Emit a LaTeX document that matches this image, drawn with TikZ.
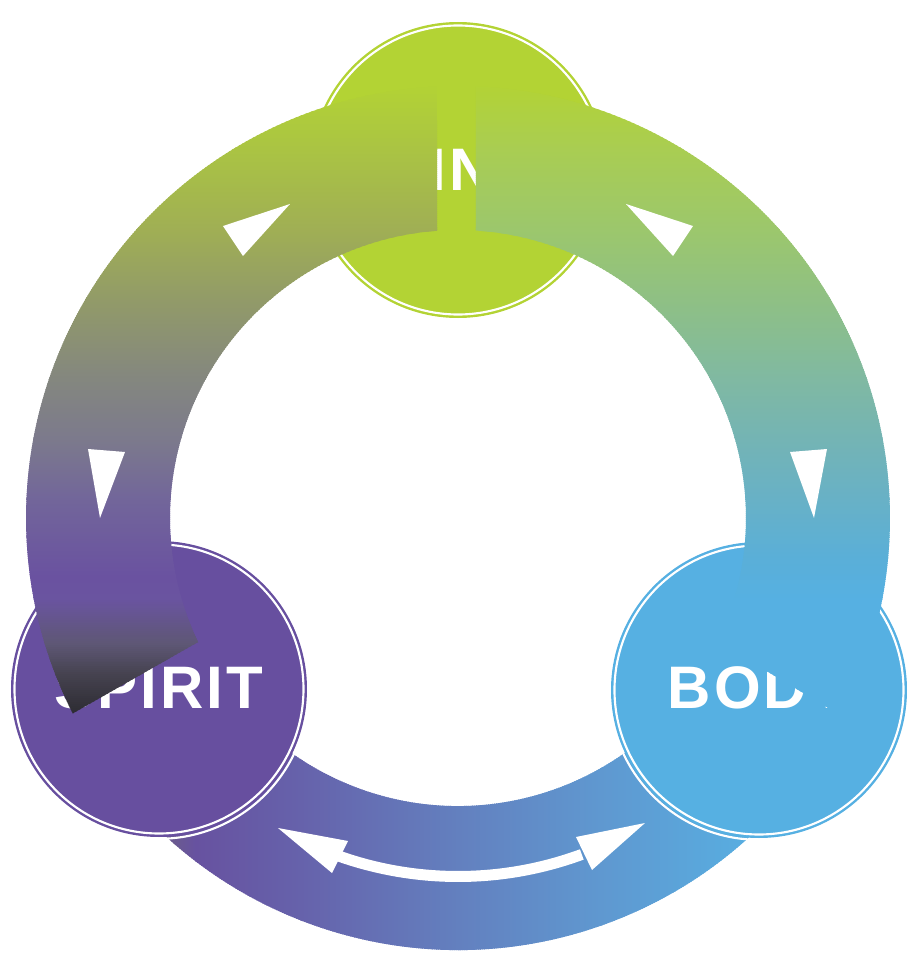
\documentclass[tikz,border=0pt]{standalone}
\usepackage{fontspec}
\newfontfamily\labfont{Liberation Sans}[LetterSpace=5]
\definecolor{mindc}{HTML}{B3D334}
\definecolor{spiritc}{HTML}{674F9F}
\definecolor{bodyc}{HTML}{56B0E2}
% left band stops
\definecolor{lbA}{HTML}{2B2A30}
\definecolor{lbB}{HTML}{45424F}
\definecolor{lbC}{HTML}{5E5775}
\definecolor{lbD}{HTML}{6A54A0}
\definecolor{lbE}{HTML}{6A52A0}
\definecolor{lbF}{HTML}{72669A}
\definecolor{lbG}{HTML}{7C7A8C}
\definecolor{lbH}{HTML}{84877F}
\definecolor{lbI}{HTML}{929B68}
\definecolor{lbJ}{HTML}{A0AF54}
\definecolor{lbK}{HTML}{AAC443}
\definecolor{lbL}{HTML}{B3D334}
% right band stops
\definecolor{rbA}{HTML}{56B0E2}
\definecolor{rbB}{HTML}{5AAFD8}
\definecolor{rbC}{HTML}{68B1C6}
\definecolor{rbD}{HTML}{74B4B4}
\definecolor{rbE}{HTML}{80B9A2}
\definecolor{rbF}{HTML}{8FC084}
\definecolor{rbG}{HTML}{9CC76C}
\definecolor{rbH}{HTML}{A9CD52}
\definecolor{rbI}{HTML}{B3D334}
% bottom band stops
\definecolor{bbA}{HTML}{6B5B88}
\definecolor{bbB}{HTML}{6A5A90}
\definecolor{bbC}{HTML}{6752A0}
\definecolor{bbD}{HTML}{6662AB}
\definecolor{bbE}{HTML}{6380BF}
\definecolor{bbF}{HTML}{5F98D0}
\definecolor{bbG}{HTML}{58ADE0}
\definecolor{bbH}{HTML}{56B0E2}
% vertical gradient made of overlapping horizontal strips
\newcommand\mystripsV[3]{%
  \foreach \ya/\ca/\yb/\cb in {#3} {
    \pgfmathtruncatemacro\nn{max(1,round((\yb-\ya)/2))}
    \foreach \k in {0,...,\nn} {
      \pgfmathsetmacro\pp{100*\k/\nn}
      \pgfmathsetmacro\yy{\ya+(\yb-\ya)*\k/\nn}
      \fill[fill=\cb!\pp!\ca] (#1,\yy) rectangle (#2,\yy+3);
    }
  }%
}
% horizontal gradient made of overlapping vertical strips
\newcommand\mystripsH[3]{%
  \foreach \xa/\ca/\xb/\cb in {#3} {
    \pgfmathtruncatemacro\nn{max(1,round((\xb-\xa)/2))}
    \foreach \k in {0,...,\nn} {
      \pgfmathsetmacro\pp{100*\k/\nn}
      \pgfmathsetmacro\xx{\xa+(\xb-\xa)*\k/\nn}
      \fill[fill=\cb!\pp!\ca] (\xx,#1) rectangle (\xx+3,#2);
    }
  }%
}
\tikzset{
  hub/.style={circle, minimum size=222pt, inner sep=0pt, text=white,
    font=\labfont\bfseries\fontsize{45}{54}\selectfont},
  innerring/.style={white, line width=1.6pt},
  outerring/.style={white, line width=1.6pt},
  marker/.style={fill=white},
}
\begin{document}
\begin{tikzpicture}[x=0.75pt, y=0.75pt]
\useasboundingbox (-458,-436) rectangle (454,518);
% bottom band
\begin{scope}
\clip (205:432) arc[start angle=205, end angle=335, radius=432]
  -- (335:288) arc[start angle=335, end angle=205, radius=288] -- cycle;
\mystripsH{-440}{-150}{-440/bbA/-392/bbA, -392/bbA/-285/bbB, -285/bbB/-263/bbC, -263/bbC/-158/bbD, -158/bbD/0/bbE, 0/bbE/142/bbF, 142/bbF/287/bbG, 287/bbG/392/bbH, 392/bbH/440/bbH}
\end{scope}
% hubs
\node[hub, fill=mindc] (mind) at (0,348) {MIND};
\node[hub, fill=spiritc] (spirit) at (-299,-171) {\raisebox{1.5pt}{SPIRIT}};
\node[hub, fill=bodyc] (body) at (301,-172) {\raisebox{4pt}{BODY}};
\foreach \h in {mind, spirit, body} {
  \draw[innerring] (\h.center) circle[radius=144.5];
  \draw[outerring] (\h.center) circle[radius=149.8];
}
% left band
\begin{scope}
\clip (-21,431.5) arc[start angle=92.79, end angle=206.9, radius=432]
  -- (205.5:288) arc[start angle=205.5, end angle=94.18, radius=288] -- cycle;
\mystripsV{-440}{0}{-200/lbA/-158/lbB, -158/lbB/-127/lbC, -127/lbC/-82/lbD, -82/lbD/-59/lbE, -59/lbE/18/lbF, 18/lbF/78/lbG, 78/lbG/138/lbH, 138/lbH/218/lbI, 218/lbI/288/lbJ, 288/lbJ/368/lbK, 368/lbK/434/lbL}
\end{scope}
% right band
\begin{scope}
\clip (18,431.6) arc[start angle=87.61, end angle=-27.3, radius=432]
  -- (-25.5:288) arc[start angle=-25.5, end angle=86.42, radius=288] -- cycle;
\mystripsV{0}{440}{-200/rbA/-82/rbA, -82/rbA/-42/rbB, -42/rbB/18/rbC, 18/rbC/78/rbD, 78/rbD/138/rbE, 138/rbE/218/rbF, 218/rbF/288/rbG, 288/rbG/368/rbH, 368/rbH/434/rbI}
\end{scope}
% markers on bands
\fill[marker] (-235,292) -- (-168,314) -- (-215,262) -- cycle;
\fill[marker] (-370,69) -- (-333,66) -- (-358,0) -- cycle;
\fill[marker] (168,314) -- (235,292) -- (215,262) -- cycle;
\fill[marker] (332,66) -- (369,69) -- (356,0) -- cycle;
% bottom double arrow
\coordinate (ltip) at (-180,-310);
\coordinate (lw1) at (-110,-323);
\coordinate (lw2) at (-126,-355);
\coordinate (rtip) at (187,-305);
\coordinate (rw1) at (118,-319);
\coordinate (rw2) at (134,-352);
\draw[white, line width=8.25pt] (250.3:358.5) arc[start angle=250.3, end angle=290.2, radius=358.5];
\fill[marker] (ltip) -- (lw1) -- (lw2) -- cycle;
\fill[marker] (rtip) -- (rw1) -- (rw2) -- cycle;
\end{tikzpicture}
\end{document}
